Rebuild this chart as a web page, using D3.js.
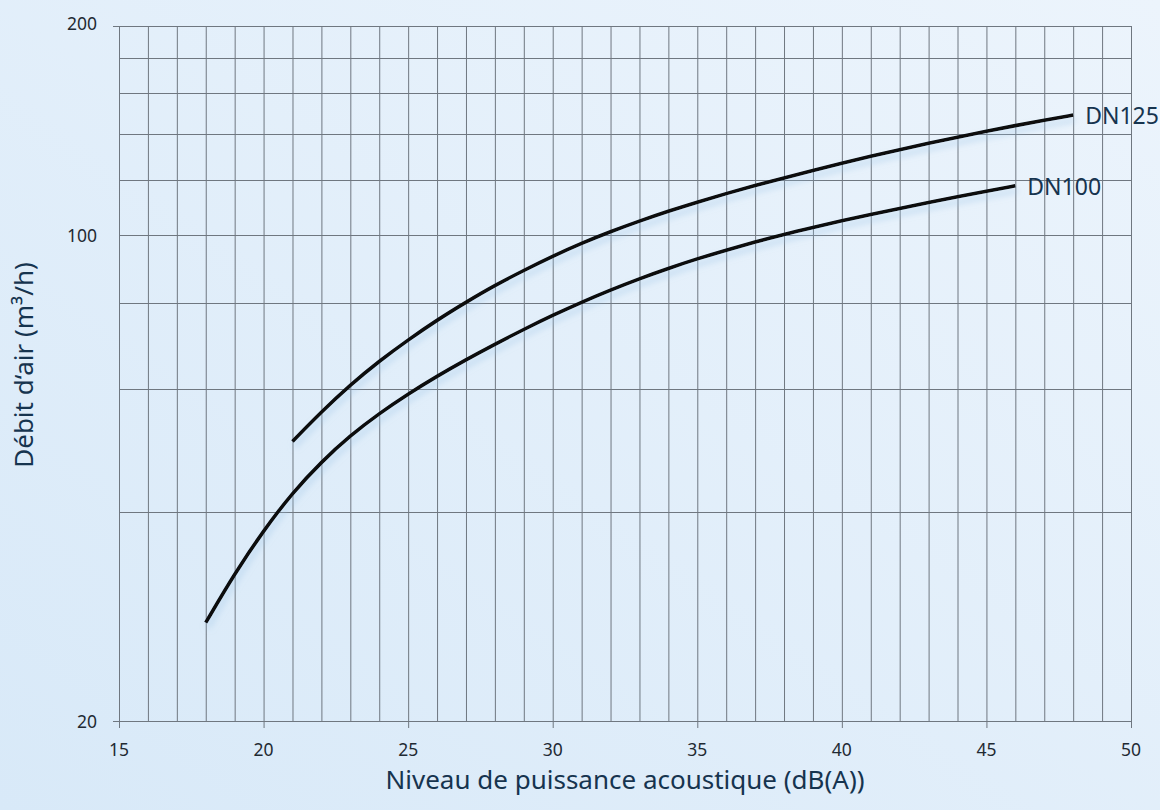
<!DOCTYPE html>
<html>
<head>
<meta charset="utf-8">
<script src="https://cdn.jsdelivr.net/npm/d3@7"></script>
<style>
  html, body { margin: 0; padding: 0; }
  body { width: 1160px; height: 810px; overflow: hidden; }
  svg text { font-family: "Source Sans Pro", "Noto Sans", "Open Sans", sans-serif; }
</style>
</head>
<body>
<div id="chart"></div>
<script>
// niveau de puissance acoustique (dB(A)) -> débit d'air (m3/h)
const dn100X = [18, 19, 20, 21, 22, 23, 24, 25, 26, 27, 28, 29, 30, 31, 32, 33, 34, 35, 36, 37, 38, 39, 40, 41, 42, 43, 44, 45, 46];
const dn100Y = [27.7, 32.6, 37.6, 42.6, 47.2, 51.5, 55.4, 59.1, 62.7, 66.2, 69.7, 73.2, 76.7, 80.1, 83.4, 86.6, 89.6, 92.5, 95.2, 97.8, 100.3, 102.6, 104.9, 107.1, 109.3, 111.5, 113.6, 115.7, 117.8];

const dn125X = [21, 22, 23, 24, 25, 26, 27, 28, 29, 30, 31, 32, 33, 34, 35, 36, 37, 38, 39, 40, 41, 42, 43, 44, 45, 46, 47, 48];
const dn125Y = [50.5, 55.7, 60.9, 65.9, 70.7, 75.5, 80.1, 84.7, 89.0, 93.3, 97.4, 101.2, 104.8, 108.3, 111.6, 114.8, 117.9, 120.9, 123.9, 126.9, 129.9, 132.8, 135.6, 138.4, 141.1, 143.8, 146.4, 148.9];

const seriesNames = ["DN100", "DN125"];
const xTickValues = [15, 20, 25, 30, 35, 40, 45, 50];
const yTickLabels = [20, 100, 200];
const yGridValues = [20, 40, 60, 80, 100, 120, 140, 160, 180, 200];

const width = 1160, height = 810;
const margin = { top: 26, right: 29, bottom: 89, left: 119 };

const svg = d3.select("#chart").append("svg")
    .attr("width", width)
    .attr("height", height);

const defs = svg.append("defs");
const bg = defs.append("linearGradient")
    .attr("id", "bg")
    .attr("x1", "100%").attr("y1", "0%")
    .attr("x2", "0%").attr("y2", "100%");
bg.append("stop").attr("offset", "0%").attr("stop-color", "#ecf4fc");
bg.append("stop").attr("offset", "100%").attr("stop-color", "#d8e9f8");

const shadow = defs.append("filter")
    .attr("id", "shadow")
    .attr("x", "-10%").attr("y", "-10%")
    .attr("width", "120%").attr("height", "140%");
shadow.append("feGaussianBlur").attr("in", "SourceAlpha").attr("stdDeviation", 3).attr("result", "blur");
shadow.append("feOffset").attr("in", "blur").attr("dx", 2).attr("dy", 5).attr("result", "off");
shadow.append("feFlood").attr("flood-color", "#9cc4e6").attr("flood-opacity", 0.55);
shadow.append("feComposite").attr("in2", "off").attr("operator", "in").attr("result", "sh");
const merge = shadow.append("feMerge");
merge.append("feMergeNode").attr("in", "sh");
merge.append("feMergeNode").attr("in", "SourceGraphic");

svg.append("rect")
    .attr("width", width)
    .attr("height", height)
    .attr("fill", "url(#bg)");

const x = d3.scaleLinear()
    .domain([15, 50])
    .range([margin.left, width - margin.right]);

const y = d3.scaleLog()
    .domain([20, 200])
    .range([height - margin.bottom, margin.top]);

const gridColor = "#6f7780";

// vertical grid, major ticks poke out under the axis
svg.append("g")
    .selectAll("line")
    .data(d3.range(15, 51))
    .enter()
    .append("line")
    .attr("x1", d => x(d) + 0.5)
    .attr("x2", d => x(d) + 0.5)
    .attr("y1", y(200))
    .attr("y2", d => xTickValues.includes(d) ? y(20) + 7 : y(20))
    .attr("stroke", gridColor)
    .attr("stroke-width", 1);

// horizontal grid
svg.append("g")
    .selectAll("line")
    .data(yGridValues)
    .enter()
    .append("line")
    .attr("x1", d => (d === 20 || d === 200) ? x(15) - 6 : x(15))
    .attr("x2", x(50) + 1)
    .attr("y1", d => Math.round(y(d)) + 0.5)
    .attr("y2", d => Math.round(y(d)) + 0.5)
    .attr("stroke", gridColor)
    .attr("stroke-width", 1);

// x tick labels
svg.append("g")
    .selectAll("text")
    .data(xTickValues)
    .enter()
    .append("text")
    .attr("x", d => x(d))
    .attr("y", y(20) + 35)
    .attr("text-anchor", "middle")
    .style("font-size", "17.5px")
    .style("fill", "#1f2a33")
    .text(d => d);

// y tick labels
svg.append("g")
    .selectAll("text")
    .data(yTickLabels)
    .enter()
    .append("text")
    .attr("x", x(15) - 22)
    .attr("y", d => y(d) + (d === 200 ? -3 : 0))
    .attr("text-anchor", "end")
    .attr("dominant-baseline", "central")
    .style("font-size", "17.5px")
    .style("fill", "#1f2a33")
    .text(d => d);

// curves
const line = d3.line()
    .x(d => x(d[0]))
    .y(d => y(d[1]))
    .curve(d3.curveBasis);

const series = [
    { name: seriesNames[0], pts: dn100X.map((v, i) => [v, dn100Y[i]]) },
    { name: seriesNames[1], pts: dn125X.map((v, i) => [v, dn125Y[i]]) }
];

svg.append("g")
    .selectAll("path")
    .data(series)
    .enter()
    .append("path")
    .attr("d", d => line(d.pts))
    .attr("fill", "none")
    .attr("stroke", "#0a0a0a")
    .attr("stroke-width", 3.6)
    .attr("stroke-linecap", "butt")
    .attr("filter", "url(#shadow)");

// series labels
svg.append("g")
    .selectAll("text")
    .data(series)
    .enter()
    .append("text")
    .attr("x", d => x(d.pts[d.pts.length - 1][0]) + 12)
    .attr("y", d => y(d.pts[d.pts.length - 1][1]))
    .attr("dominant-baseline", "central")
    .style("font-size", "23px")
    .style("fill", "#16344f")
    .text(d => d.name);

// axis titles
svg.append("text")
    .attr("x", (x(15) + x(50)) / 2)
    .attr("y", 789)
    .attr("text-anchor", "middle")
    .style("font-size", "26px")
    .style("fill", "#16344f")
    .text("Niveau de puissance acoustique (dB(A))");

svg.append("text")
    .attr("transform", "translate(33, 365) rotate(-90)")
    .attr("text-anchor", "middle")
    .style("font-size", "26px")
    .style("fill", "#16344f")
    .text("Débit d‘air (m³/h)");
</script>
</body>
</html>
